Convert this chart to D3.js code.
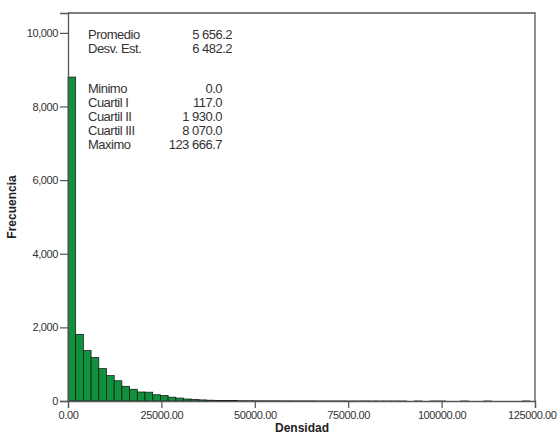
<!DOCTYPE html>
<html>
<head>
<meta charset="utf-8">
<script src="https://cdn.jsdelivr.net/npm/d3@7"></script>
<style>
  body { margin: 0; background: #fff; }
  text { font-family: "Liberation Sans", Arial, sans-serif; fill: #333; }
</style>
</head>
<body>
<script>
// histogram counts, one per bin (bin width = max / 60)
const counts = [8800, 1810, 1370, 1180, 880, 690, 550, 400, 320, 245,
	240, 170, 150, 105, 80, 55, 45, 30, 22, 16,
	12, 10, 8, 7, 6, 5, 5, 4, 4, 3,
	3, 3, 2, 2, 2, 2, 1, 1, 2, 1,
	1, 1, 1, 1, 0, 1, 0, 1, 1, 0,
	0, 1, 0, 0, 1, 0, 0, 0, 0, 1];
const maxValue = 123666.7;
const xTicks = [0, 25000, 50000, 75000, 100000, 125000];
const yTicks = [0, 2000, 4000, 6000, 8000, 10000];

const statsTop = [["Promedio", "5 656.2"], ["Desv. Est.", "6 482.2"]];
const statsBottom = [["Minimo", "0.0"], ["Cuartil I", "117.0"], ["Cuartil II", "1 930.0"],
	["Cuartil III", "8 070.0"], ["Maximo", "123 666.7"]];

const width = 557, height = 437;
const margin = {top: 13, right: 22, bottom: 36, left: 68};

const svg = d3.select('body').append('svg')
	.attr('width', width)
	.attr('height', height);

const x = d3.scaleLinear()
	.domain([0, 125000])
	.range([margin.left, width - margin.right]);

const y = d3.scaleLinear()
	.domain([0, 10540])
	.range([height - margin.bottom, margin.top]);

const binW = maxValue / counts.length;

// bars
svg.append('g')
	.selectAll('rect')
	.data(counts)
	.enter().append('rect')
	.attr('x', (d, i) => x(i * binW))
	.attr('width', x(binW) - x(0))
	.attr('y', d => y(d))
	.attr('height', d => y(0) - y(d))
	.attr('fill', '#11903e')
	.attr('stroke', '#111')
	.attr('stroke-width', d => d > 0 ? 0.7 : 0);

// frame top and right
svg.append('path')
	.attr('d', `M${x(0)},${y.range()[1]}H${x.range()[1]}V${y(0)}`)
	.attr('fill', 'none')
	.attr('stroke', '#555')
	.attr('stroke-width', 1.3);

// axes
const xAxis = svg.append('g')
	.attr('transform', `translate(0,${y(0)})`)
	.call(d3.axisBottom(x).tickValues(xTicks).tickSize(7).tickPadding(3)
		.tickFormat(d3.format('.2f')));

const yAxis = svg.append('g')
	.attr('transform', `translate(${x(0)},0)`)
	.call(d3.axisLeft(y).tickValues(yTicks).tickSize(8).tickPadding(2)
		.tickFormat(d3.format(',')));

[xAxis, yAxis].forEach(a => {
	a.select('.domain').attr('stroke', '#555').attr('stroke-width', 1.3);
	a.selectAll('.tick line').attr('stroke', '#555').attr('stroke-width', 1.2);
	a.selectAll('.tick text')
		.attr('fill', '#444')
		.style('font-size', '11px')
		.style('letter-spacing', '-0.4px');
});

// last x label would run off the right edge: pin it to the edge
xAxis.selectAll('.tick text')
	.filter(d => d === 125000)
	.attr('text-anchor', 'end')
	.attr('dx', width - 1 - x(125000));

// axis titles
svg.append('text')
	.attr('x', 302)
	.attr('y', 432)
	.attr('text-anchor', 'middle')
	.style('font-size', '12px')
	.style('font-weight', 'bold')
	.style('fill', '#222')
	.text('Densidad');

svg.append('text')
	.attr('transform', 'translate(16,207) rotate(-90)')
	.attr('text-anchor', 'middle')
	.style('font-size', '12px')
	.style('font-weight', 'bold')
	.style('fill', '#222')
	.text('Frecuencia');

// statistics box
const stats = svg.append('g').style('font-size', '13px').style('letter-spacing', '-0.5px');

function drawStats(rows, top, right) {
	rows.forEach((r, i) => {
		stats.append('text')
			.attr('x', 88)
			.attr('y', top + i * 14)
			.text(r[0]);
		stats.append('text')
			.attr('x', right)
			.attr('y', top + i * 14)
			.attr('text-anchor', 'end')
			.text(r[1]);
	});
}
drawStats(statsTop, 39, 232);
drawStats(statsBottom, 93, 222);
</script>
</body>
</html>
